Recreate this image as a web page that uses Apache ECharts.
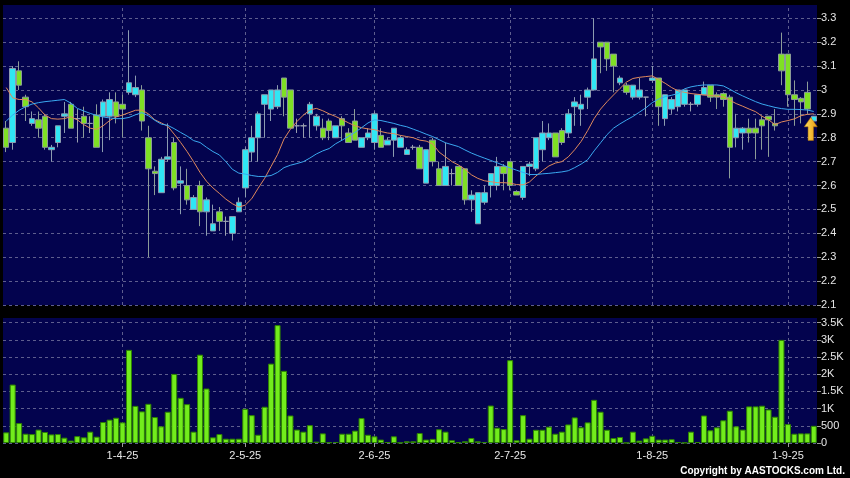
<!DOCTYPE html>
<html><head><meta charset="utf-8">
<script src="https://cdn.jsdelivr.net/npm/echarts@6/dist/echarts.min.js"></script>
<style>html,body{margin:0;padding:0;background:#000;}#c{width:850px;height:478px;}</style>
</head><body><div id="c"></div>
<script>
const dates = [
'6-3-25','7-3-25','10-3-25','11-3-25','12-3-25','13-3-25','14-3-25','17-3-25','18-3-25','19-3-25','20-3-25','21-3-25','24-3-25','25-3-25','26-3-25','27-3-25','28-3-25','31-3-25',
'1-4-25','2-4-25','3-4-25','7-4-25','8-4-25','9-4-25','10-4-25','11-4-25','14-4-25','15-4-25','16-4-25','17-4-25','22-4-25','23-4-25','24-4-25','25-4-25','28-4-25','29-4-25','30-4-25',
'2-5-25','6-5-25','7-5-25','8-5-25','9-5-25','12-5-25','13-5-25','14-5-25','15-5-25','16-5-25','19-5-25','20-5-25','21-5-25','22-5-25','23-5-25','26-5-25','27-5-25','28-5-25','29-5-25','30-5-25',
'2-6-25','3-6-25','4-6-25','5-6-25','6-6-25','9-6-25','10-6-25','11-6-25','12-6-25','13-6-25','16-6-25','17-6-25','18-6-25','19-6-25','20-6-25','23-6-25','24-6-25','25-6-25','26-6-25','27-6-25','30-6-25',
'2-7-25','3-7-25','4-7-25','7-7-25','8-7-25','9-7-25','10-7-25','11-7-25','14-7-25','15-7-25','16-7-25','17-7-25','18-7-25','21-7-25','22-7-25','23-7-25','24-7-25','25-7-25','28-7-25','29-7-25','30-7-25','31-7-25',
'1-8-25','4-8-25','5-8-25','6-8-25','7-8-25','8-8-25','11-8-25','12-8-25','13-8-25','14-8-25','15-8-25','18-8-25','19-8-25','20-8-25','21-8-25','22-8-25','25-8-25','26-8-25','27-8-25','28-8-25','29-8-25',
'1-9-25','2-9-25','3-9-25','4-9-25','5-9-25'];

const opens = [2.84,2.78,3.08,2.97,2.86,2.875,2.89,2.75,2.78,2.89,2.94,2.88,2.89,2.86,2.895,2.89,2.89,2.95,2.94,2.99,
2.98,3.00,2.80,2.66,2.57,2.71,2.78,2.61,2.60,2.50,2.60,2.49,2.41,2.49,2.45,2.40,2.49,2.59,2.74,2.80,
2.94,2.92,2.93,3.05,3.00,2.85,2.85,2.90,2.85,2.84,2.87,2.80,2.88,2.82,2.87,2.76,2.80,2.78,2.81,2.77,
2.79,2.76,2.73,2.76,2.76,2.61,2.79,2.67,2.60,2.65,2.68,2.67,2.54,2.44,2.53,2.60,2.60,2.68,2.70,2.575,
2.55,2.68,2.67,2.75,2.80,2.82,2.83,2.82,2.93,2.92,2.97,3.00,3.20,3.20,3.15,3.03,3.02,2.97,2.97,2.97,
3.04,3.05,2.88,2.92,2.93,2.94,2.94,2.94,2.98,3.02,2.98,2.985,2.97,2.80,2.82,2.84,2.84,2.875,2.89,2.86,
3.15,3.15,2.98,2.965,2.99,2.87];
const closes = [2.76,3.09,3.02,2.93,2.88,2.84,2.76,2.76,2.85,2.90,2.84,2.88,2.86,2.86,2.76,2.95,2.96,2.89,2.92,3.03,
3.01,2.87,2.67,2.65,2.71,2.72,2.59,2.62,2.54,2.55,2.49,2.54,2.44,2.45,2.45,2.47,2.53,2.75,2.80,2.90,
2.98,3.00,3.00,2.97,2.84,2.85,2.85,2.94,2.89,2.80,2.83,2.85,2.85,2.78,2.79,2.80,2.82,2.90,2.76,2.79,
2.84,2.80,2.75,2.76,2.67,2.75,2.70,2.60,2.68,2.65,2.60,2.54,2.56,2.57,2.57,2.65,2.68,2.65,2.60,2.56,
2.68,2.69,2.80,2.82,2.82,2.72,2.78,2.90,2.95,2.94,3.00,3.13,3.18,3.13,3.10,3.05,2.99,3.02,3.00,2.97,
3.05,2.93,2.98,2.96,3.00,3.00,2.94,2.98,3.01,2.97,2.97,2.96,2.76,2.84,2.84,2.82,2.82,2.85,2.875,2.85,
3.08,2.98,2.96,2.95,2.92,2.89];
const lows = [2.74,2.75,3.00,2.87,2.85,2.80,2.75,2.70,2.76,2.82,2.84,2.78,2.80,2.82,2.76,2.74,2.79,2.86,2.80,2.98,
2.97,2.83,2.30,2.56,2.57,2.70,2.58,2.48,2.52,2.50,2.43,2.39,2.41,2.41,2.39,2.37,2.49,2.55,2.70,2.70,
2.80,2.87,2.92,2.89,2.84,2.82,2.80,2.80,2.83,2.79,2.79,2.80,2.79,2.78,2.79,2.76,2.79,2.75,2.76,2.77,
2.72,2.76,2.73,2.75,2.67,2.61,2.68,2.60,2.60,2.60,2.60,2.52,2.49,2.44,2.52,2.55,2.58,2.58,2.58,2.56,
2.54,2.64,2.66,2.70,2.79,2.72,2.77,2.80,2.85,2.85,2.92,3.00,3.07,3.08,2.99,3.02,2.98,2.96,2.96,2.89,
3.03,2.85,2.85,2.90,2.91,2.93,2.91,2.93,2.98,2.95,2.92,2.93,2.63,2.76,2.75,2.78,2.71,2.75,2.72,2.83,
3.02,2.93,2.85,2.86,2.90,2.86];
const highs = [2.87,3.10,3.12,2.98,2.91,2.91,2.90,2.77,2.85,2.95,2.95,2.92,2.93,2.89,2.94,2.96,2.99,2.99,2.98,3.25,
3.06,3.02,2.85,2.68,2.72,2.86,2.80,2.68,2.67,2.56,2.62,2.55,2.52,2.51,2.47,2.47,2.55,2.76,2.85,2.91,
2.98,3.00,3.02,3.05,3.00,2.88,2.86,2.95,2.90,2.88,2.88,2.85,2.89,2.84,2.92,2.80,2.84,2.91,2.84,2.80,
2.84,2.81,2.76,2.77,2.77,2.75,2.80,2.70,2.78,2.67,2.68,2.67,2.58,2.57,2.60,2.65,2.72,2.69,2.70,2.58,
2.68,2.70,2.80,2.87,2.86,2.82,2.84,2.92,2.97,2.98,3.01,3.30,3.20,3.20,3.15,3.06,3.03,3.02,3.05,2.97,
3.10,3.05,2.98,2.97,3.00,3.00,2.95,2.98,3.035,3.02,2.99,2.99,2.98,2.90,2.845,2.88,2.88,2.89,2.89,2.92,
3.24,3.15,3.04,2.97,3.035,2.89];
const volumes = [310,1700,580,270,260,390,320,250,260,155,70,200,165,330,185,610,680,735,600,2710,
1080,920,1140,755,485,910,2010,1315,1130,330,2570,1585,165,260,125,125,125,995,810,240,
1055,2310,3430,2100,800,390,330,520,40,280,20,30,270,270,360,725,240,195,100,30,
195,10,50,50,290,100,120,400,330,80,20,50,145,50,30,1090,445,405,2410,80,
810,125,385,385,475,270,330,540,745,455,600,1257,910,385,145,175,5,330,70,135,
210,100,100,110,30,10,330,30,800,370,455,660,940,485,390,1065,1065,1085,975,765,
3000,550,270,280,280,500];
const maFast = [3.01,2.967,2.96,2.96,2.95,2.925,2.895,2.88,2.878,2.88,2.888,2.875,2.855,2.84,2.835,2.85,2.872,2.887,2.895,2.905,
2.915,2.916,2.90,2.875,2.862,2.848,2.815,2.78,2.742,2.70,2.655,2.618,2.59,2.567,2.543,2.524,2.51,2.518,2.545,2.589,
2.63,2.68,2.73,2.795,2.836,2.868,2.895,2.916,2.923,2.913,2.90,2.889,2.876,2.862,2.85,2.842,2.837,2.834,2.826,2.82,
2.817,2.81,2.805,2.80,2.79,2.786,2.775,2.74,2.72,2.70,2.686,2.668,2.645,2.63,2.62,2.616,2.612,2.612,2.61,2.604,
2.603,2.615,2.64,2.662,2.682,2.694,2.70,2.72,2.75,2.785,2.83,2.88,2.92,2.951,2.979,3.006,3.033,3.048,3.053,3.056,
3.059,3.043,3.028,3.01,2.996,2.99,2.985,2.982,2.979,2.977,2.974,2.971,2.957,2.943,2.932,2.92,2.909,2.89,2.875,2.855,
2.866,2.872,2.879,2.892,2.898,2.90];
const maSlow = [2.87,2.895,2.915,2.93,2.941,2.947,2.951,2.954,2.957,2.96,2.945,2.923,2.912,2.902,2.893,2.887,2.883,2.88,2.88,2.885,
2.896,2.905,2.892,2.873,2.857,2.852,2.838,2.822,2.807,2.788,2.78,2.76,2.742,2.728,2.70,2.668,2.652,2.648,2.642,2.638,
2.638,2.642,2.655,2.675,2.685,2.692,2.70,2.715,2.732,2.745,2.755,2.775,2.79,2.806,2.823,2.842,2.862,2.875,2.872,2.866,
2.86,2.852,2.846,2.836,2.826,2.815,2.805,2.792,2.779,2.771,2.763,2.749,2.736,2.725,2.715,2.705,2.695,2.684,2.674,2.664,
2.655,2.646,2.646,2.649,2.651,2.654,2.657,2.662,2.675,2.69,2.708,2.745,2.779,2.813,2.84,2.858,2.874,2.889,2.907,2.925,
2.947,2.962,2.972,2.978,2.985,3.005,3.013,3.018,3.021,3.021,3.021,3.017,3.003,2.988,2.975,2.963,2.951,2.941,2.934,2.927,
2.922,2.919,2.919,2.918,2.916,2.91];
const dateTicks = ['1-4-25','2-5-25','2-6-25','2-7-25','1-8-25','1-9-25'];
const copyrightText = 'Copyright by AASTOCKS.com Ltd.';

const candleData = opens.map((o, i) => [o, closes[i], lows[i], highs[i]]);
const lastIdx = closes.length - 1;

const navy = '#03034e';
const gridCol = '#5e5e8e';
const txt = '#e6e6e6';
const fontFam = '"Liberation Sans", Arial, sans-serif';
const tickFn = (i, v) => dateTicks.indexOf(v) >= 0;

const vLines = {
  silent: true, symbol: 'none', z: 1, animation: false,
  label: {show: false},
  lineStyle: {color: gridCol, type: [3, 3], width: 1},
  emphasis: {disabled: true},
  data: dateTicks.map(d => ({xAxis: d}))
};

const chart = echarts.init(document.getElementById('c'), null, {renderer: 'canvas'});
chart.setOption({
  backgroundColor: '#000',
  animation: false,
  grid: [
    {left: 3, right: 33, top: 5, height: 300, show: true, backgroundColor: navy, borderWidth: 0},
    {left: 3, right: 33, top: 318, height: 125, show: true, backgroundColor: navy, borderWidth: 0}
  ],
  xAxis: [
    {gridIndex: 0, type: 'category', data: dates, boundaryGap: true,
     axisLine: {show: false}, axisTick: {show: false}, axisLabel: {show: false}, splitLine: {show: false}},
    {gridIndex: 1, type: 'category', data: dates, boundaryGap: true,
     axisLine: {show: false},
     axisTick: {show: true, alignWithLabel: true, interval: tickFn, length: 4, lineStyle: {color: '#9a9a9a'}},
     axisLabel: {interval: tickFn, color: txt, fontSize: 11, fontFamily: fontFam, margin: 7},
     splitLine: {show: false}}
  ],
  yAxis: [
    {gridIndex: 0, type: 'value', position: 'right', min: 2.1, max: 3.3556, interval: 0.1,
     axisLine: {show: false},
     axisTick: {show: true, length: 4, lineStyle: {color: '#9a9a9a'}},
     axisLabel: {color: txt, fontSize: 11, fontFamily: fontFam, margin: 4, showMaxLabel: false,
                 formatter: v => String(Math.round(v * 10) / 10)},
     splitLine: {show: true, showMaxLine: false, lineStyle: {color: gridCol, type: [3, 3], width: 1}}},
    {gridIndex: 1, type: 'value', position: 'right', min: 0, max: 3637, interval: 500,
     axisLine: {show: false},
     axisTick: {show: true, length: 4, lineStyle: {color: '#9a9a9a'}},
     axisLabel: {color: txt, fontSize: 11, fontFamily: fontFam, margin: 4, showMaxLabel: false,
                 formatter: v => v >= 1000 ? (v / 1000) + 'K' : String(v)},
     splitLine: {show: true, showMaxLine: false, lineStyle: {color: gridCol, type: [3, 3], width: 1}}}
  ],
  series: [
    {type: 'candlestick', xAxisIndex: 0, yAxisIndex: 0, data: candleData, barWidth: 6, z: 3,
     itemStyle: {color: '#30e6f4', color0: '#7fe024', borderColor: '#8c9cb0', borderColor0: '#8c9c98', borderColorDoji: '#9aa0b0', borderWidth: 1},
     markLine: vLines,
     markPoint: {
       silent: true, animation: false,
       symbol: 'path://M6,0 L12,9 L8.5,9 L8.5,22 L3.5,22 L3.5,9 L0,9 Z',
       symbolSize: [13, 23], symbolOffset: [-3, '55%'],
       itemStyle: {color: new echarts.graphic.LinearGradient(0, 0, 1, 0, [{offset: 0, color: '#ffe060'}, {offset: 1, color: '#e89a10'}]), borderColor: '#b07000', borderWidth: 0.5},
       label: {show: false},
       data: [{coord: [dates[lastIdx], closes[lastIdx]]}]
     }},
    {type: 'line', xAxisIndex: 0, yAxisIndex: 0, data: maFast, showSymbol: false, smooth: false, z: 4,
     lineStyle: {color: '#e0895c', width: 1}},
    {type: 'line', xAxisIndex: 0, yAxisIndex: 0, data: maSlow, showSymbol: false, smooth: false, z: 4,
     lineStyle: {color: '#3aa8f0', width: 1}},
    {type: 'bar', xAxisIndex: 1, yAxisIndex: 1, data: volumes, barWidth: 6, z: 3,
     itemStyle: {color: '#72ec1c', borderColor: '#2e8400', borderWidth: 1},
     markLine: vLines}
  ],
  graphic: [
    {type: 'text', right: 5, bottom: 2, silent: true,
     style: {text: copyrightText, fill: '#ffffff', font: 'bold 10px ' + fontFam}}
  ]
});
</script>
</body></html>
